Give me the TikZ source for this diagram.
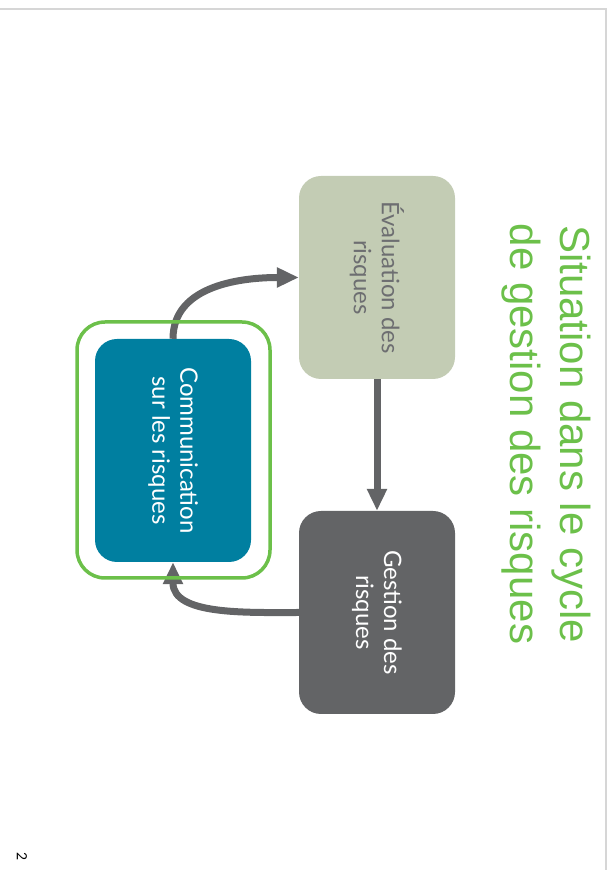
\documentclass[tikz,border=0pt]{standalone}
\usepackage{fontspec}
\setmainfont{Lato}
\newfontfamily\titlefont{Liberation Sans}
\usetikzlibrary{arrows.meta}
\usetikzlibrary{calc}
\definecolor{sage}{HTML}{C3CCB4}
\definecolor{boxgray}{HTML}{636466}
\definecolor{commblue}{HTML}{007FA0}
\definecolor{leafgreen}{HTML}{6CC04A}
\definecolor{evaltext}{HTML}{6D6E71}
\definecolor{rulegray}{HTML}{D6D6D6}
\tikzset{box/.style={rotate=-90,rounded corners=22pt,minimum width=203pt,minimum height=156pt,
    align=center,inner sep=0pt,font=\fontsize{24}{28}\selectfont}}
\tikzset{arr/.style={line width=7pt,draw=boxgray,>={Triangle[width=19pt,length=22pt]}}}
\tikzset{t/.style={font=\titlefont\fontsize{42}{50}\selectfont}}

\begin{document}
\begin{tikzpicture}[x=1pt,y=1pt]
      \useasboundingbox (0,0) rectangle (614,870);
      \draw[rulegray,line width=1.5pt] (0,861) -- (606,861) -- (606,0);
      \node[t,rotate=-90,align=center,text=leafgreen] (T) at (546,436)
        {Situation dans le cycle\\de gestion des risques};
      \node[box,fill=sage,text=evaltext] (E) at (377,592.5) {Évaluation des\\risques};
      \node[box,fill=boxgray,text=white] (G) at (377,257.5) {Gestion des\\risques}
        edge [arr,<-] (E);
      \node[box,minimum width=223pt,fill=commblue,text=white] (C) at (173,419.5)
        {Communication\\sur les risques};
      \draw[arr,->] (C.west) to[out=90,in=180] (E.south);
      \draw[arr,->] (G.south) to[out=180,in=-90] (C.east);
      \draw[leafgreen,line width=3.5pt,rounded corners=28pt]
        ($(C.center)+(-96,-127.5)$) rectangle ($(C.center)+(97,128.5)$);
      \node[rotate=-90,font=\fontsize{14}{14}\selectfont] (P) at (22,13) {2};
    \end{tikzpicture}
\end{document}
